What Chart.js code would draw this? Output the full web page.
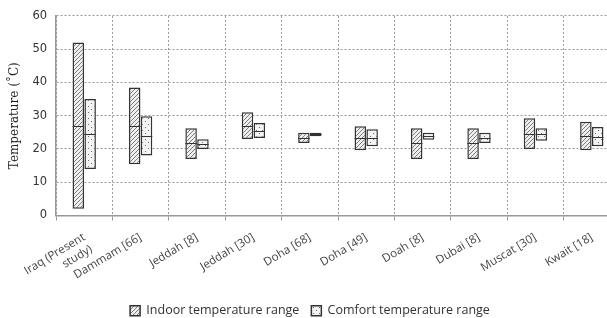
<!DOCTYPE html>
<html>
<head>
<meta charset="utf-8">
<script src="https://cdn.jsdelivr.net/npm/chart.js@4"></script>
<style>
  html, body { margin: 0; padding: 0; background: #fff; overflow: hidden; }
  #wrap { width: 607px; height: 318px; overflow: hidden; }
</style>
</head>
<body>
<div id="wrap"><canvas id="chart" width="620" height="318"></canvas></div>
<script>
// categorie e valori
var categories = [['Iraq (Present', 'study)'], 'Dammam [66]', 'Jeddah [8]', 'Jeddah [30]', 'Doha [68]', 'Doha [49]', 'Doah [8]', 'Dubai [8]', 'Muscat [30]', 'Kwait [18]'];
var indoorMin  = [2, 15.4, 17, 23, 21.8, 19.6, 17, 17, 20, 19.6];
var indoorMax  = [52, 38.5, 26.2, 31, 24.9, 26.8, 26.2, 26.2, 29.2, 28.2];
var indoorMid  = [27, 27, 21.7, 27, 23.4, 23.3, 21.7, 21.7, 24.5, 23.8];
var comfortMin = [14, 18, 20, 23.3, 23.8, 20.8, 22.8, 21.8, 22.5, 20.8];
var comfortMax = [35, 29.8, 22.9, 27.8, 24.9, 25.9, 24.9, 24.9, 26.2, 26.6];
var comfortMid = [24.5, 23.8, 21.4, 25.5, 24.4, 23.4, 23.9, 23.4, 24.4, 23.7];
var yTicks = [0, 10, 20, 30, 40, 50, 60];

// pattern tratteggio diagonale
function hatchPattern(){
    var c = document.createElement('canvas');
    c.width = 4; c.height = 4;
    var g = c.getContext('2d');
    g.fillStyle = '#eeeeee';
    g.fillRect(0, 0, 4, 4);
    g.strokeStyle = '#7e7e7e';
    g.lineWidth = 1;
    g.beginPath();
    g.moveTo(-1, 5); g.lineTo(5, -1);
    g.moveTo(-1, 1); g.lineTo(1, -1);
    g.moveTo(3, 5); g.lineTo(5, 3);
    g.stroke();
    return g.createPattern(c, 'repeat');
}

// pattern a puntini
function dotPattern(){
    var c = document.createElement('canvas');
    c.width = 6; c.height = 6;
    var g = c.getContext('2d');
    g.fillStyle = '#f3f3f3';
    g.fillRect(0, 0, 6, 6);
    g.fillStyle = '#6e6e6e';
    g.fillRect(1, 1, 1, 1);
    g.fillRect(4, 4, 1, 1);
    return g.createPattern(c, 'repeat');
}

function ranges(lo, hi){
    var out = [];
    for (var i = 0; i < lo.length; i++) out.push([lo[i], hi[i]]);
    return out;
}

// linea centrale di ogni barra
var midLines = {
    id: 'midLines',
    afterDatasetsDraw: function(chart){
        var ctx = chart.ctx;
        var y = chart.scales.y;
        var mids = [indoorMid, comfortMid];
        ctx.save();
        ctx.strokeStyle = '#333';
        ctx.lineWidth = 1;
        for (var d = 0; d < 2; d++) {
            var meta = chart.getDatasetMeta(d);
            meta.data.forEach(function(bar, i){
                var py = Math.round(y.getPixelForValue(mids[d][i])) + 0.5;
                ctx.beginPath();
                ctx.moveTo(bar.x - bar.width / 2, py);
                ctx.lineTo(bar.x + bar.width / 2, py);
                ctx.stroke();
            });
        }
        ctx.restore();
    }
};

var ctx = document.getElementById('chart');
var chart = new Chart(ctx, {
    type: 'bar',
    data: {
        labels: categories,
        datasets: [{
            label: 'Indoor temperature range',
            data: ranges(indoorMin, indoorMax),
            backgroundColor: hatchPattern(),
            borderColor: '#333',
            borderWidth: 1.5,
            borderSkipped: false
        }, {
            label: 'Comfort temperature range',
            data: ranges(comfortMin, comfortMax),
            backgroundColor: dotPattern(),
            borderColor: '#333',
            borderWidth: 1.5,
            borderSkipped: false
        }]
    },
    options: {
        responsive: false,
        animation: false,
        devicePixelRatio: 1,
        layout: { padding: { left: 0, right: 0, top: 4, bottom: -9 } },
        datasets: { bar: { categoryPercentage: 0.42, barPercentage: 0.97 } },
        plugins: {
            legend: {
                position: 'bottom',
                labels: {
                    boxWidth: 10, boxHeight: 10,
                    color: '#333',
                    padding: 12,
                    font: { family: 'Open Sans', size: 12.5 }
                }
            },
            tooltip: { enabled: false }
        },
        scales: {
            x: {
                afterFit: function(s){ s.height = 77; },
                grid: { color: '#999', lineWidth: 1, tickLength: 5, offset: true },
                border: { color: '#999', width: 1.5, dash: [2, 2] },
                ticks: {
                    color: '#444',
                    padding: 10,
                    minRotation: 31, maxRotation: 31,
                    autoSkip: false,
                    font: { family: 'Open Sans', size: 11.5 }
                }
            },
            y: {
                min: 0, max: 60,
                afterBuildTicks: function(axis){
                    axis.ticks = yTicks.map(function(v){ return { value: v }; });
                },
                grid: { color: '#999', drawTicks: false },
                border: { color: '#999', width: 1.5, dash: [2, 2] },
                ticks: {
                    color: '#333',
                    padding: 9,
                    font: { family: 'DejaVu Sans', size: 11.5 }
                },
                title: {
                    display: true,
                    text: 'Temperature (˚C)',
                    color: '#222',
                    padding: { top: 8, bottom: 1 },
                    font: { family: 'DejaVu Serif', size: 12 }
                }
            }
        }
    },
    plugins: [midLines]
});
</script>
</body>
</html>
